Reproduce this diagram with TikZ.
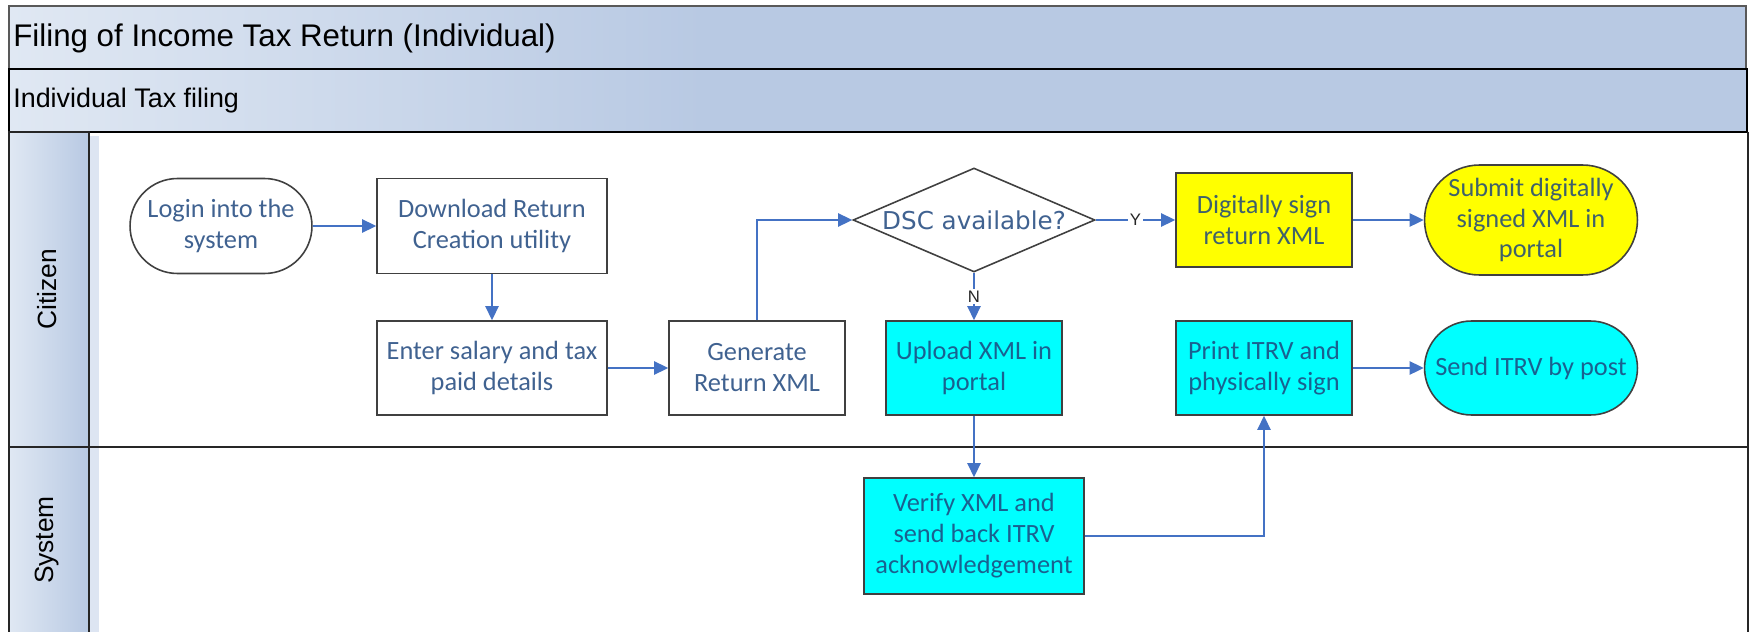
\documentclass[tikz,border=0pt]{standalone}
\usepackage{fontspec}
\setmainfont{Carlito}
\newfontfamily\arialfont{Liberation Sans}
\newfontfamily\dscfont{DejaVu Sans}
\usepackage{xcolor}
\usetikzlibrary{shapes.geometric, shapes.misc, arrows.meta}

\definecolor{flowblue}{RGB}{68,114,196}
\definecolor{nodetext}{RGB}{30,70,125}
\definecolor{barlight}{RGB}{224,232,243}
\definecolor{bardark}{RGB}{184,201,227}
\definecolor{ghost}{RGB}{221,229,242}
\definecolor{signyellow}{RGB}{255,255,0}
\definecolor{uploadcyan}{RGB}{0,255,255}

\pgfdeclarehorizontalshading{barshade}{100bp}{color(0bp)=(barlight); color(25bp)=(barlight); color(45bp)=(bardark); color(100bp)=(bardark)}

\begin{document}
\begin{tikzpicture}[x=0.02cm, y=-0.02cm,
        box/.style={rectangle, draw=black!75, line width=0.9pt, align=center, text=nodetext, text opacity=0.85, font=\fontsize{15}{17.6}\selectfont, inner sep=2pt},
        terminal/.style={box, rounded rectangle},
        decision/.style={diamond, draw=black!75, line width=0.9pt, aspect=2.4, inner sep=0pt, text=nodetext, text opacity=0.85, font=\dscfont\fontsize{14}{16}\selectfont},
        flow/.style={draw=flowblue, line width=1.1pt, -{Triangle[length=8pt, width=7.5pt]}},
        answer/.style={fill=white, inner sep=1pt, font=\arialfont\fontsize{9.5}{11}\selectfont, text=black!85},
        lanename/.style={rotate=90, inner sep=0pt, font=\arialfont\fontsize{15}{18}\selectfont}
    ]
        \useasboundingbox (0,0) rectangle (1752,632);

        % Pool and lanes
        \path [shading=barshade, draw=black!65, line width=0.7pt] (9,6) rectangle (1746,69);
        \path [shading=barshade, draw=black, line width=1.5pt] (9,69) rectangle (1747,132);
        \fill [ghost] (89,136) rectangle (99,640);
        \path [left color=barlight, right color=bardark, draw=black!85, line width=0.7pt] (9,132) rectangle (89,640);
        \draw [black!85, line width=0.7pt] (9,447) -- (1748,447);
        \draw [black!85, line width=0.7pt] (1748,132) -- (1748,640);

        \node [anchor=base west, inner sep=0pt, font=\arialfont\fontsize{17.8}{20}\selectfont] (pool) at (13, 46) {Filing of Income Tax Return (Individual)};
        \node [anchor=base west, inner sep=0pt, font=\arialfont\fontsize{15.3}{18}\selectfont] (phase) at (13, 107) {Individual Tax filing};
        \node [lanename] (citizen) at (47, 289) {Citizen};
        \node [lanename] (system) at (47, 540) {System};

        % Nodes
        \node [terminal, minimum width=3.78cm, minimum height=1.9cm] (login) at (221, 226) {Login into the\\system};

        \node [box, minimum width=4.6cm, minimum height=1.9cm] (download) at (492, 226) {Download Return\\Creation utility};

        \node [box, minimum width=4.6cm, minimum height=1.88cm] (salary) at (492, 368) {Enter salary and tax\\paid details};

        \node [box, minimum width=3.52cm, minimum height=1.88cm] (genxml) at (757, 368) {Generate\\Return XML};

        \node [decision, minimum width=4.84cm, minimum height=2.08cm] (dsc) at (974, 220) {DSC available?};

        \node [box, fill=signyellow, minimum width=3.52cm, minimum height=1.88cm] (digisign) at (1264, 220) {Digitally sign\\return XML};

        \node [terminal, fill=signyellow, minimum width=4.4cm, minimum height=2.2cm] (submit) at (1531, 220) {Submit digitally\\signed XML in\\portal};

        \node [box, fill=uploadcyan, minimum width=3.52cm, minimum height=1.88cm] (upload) at (974, 368) {Upload XML in\\portal};

        \node [box, fill=uploadcyan, minimum width=3.52cm, minimum height=1.88cm] (printitrv) at (1264, 368) {Print ITRV and\\physically sign};

        \node [terminal, fill=uploadcyan, minimum width=4.4cm, minimum height=1.88cm] (post) at (1531, 368) {Send ITRV by post};

        \node [box, fill=uploadcyan, minimum width=4.4cm, minimum height=2.32cm] (verify) at (974, 536) {Verify XML and\\send back ITRV\\acknowledgement};

        % Connections
        \draw [flow] (login) -- (download);
        \draw [flow] (download) -- (salary);
        \draw [flow] (salary) -- (genxml);
        \draw [flow] (genxml.north) |- (dsc.west);

        \draw [flow] (dsc) -- node[answer] {Y} (digisign);
        \draw [flow] (dsc) -- node[answer] {N} (upload);
        \draw [flow] (digisign) -- (submit);

        % The ITRV goes down to the system lane and comes back up
        \draw [flow] (upload) -- (verify);
        \draw [flow] (verify) -| (printitrv);
        \draw [flow] (printitrv) -- (post);

    \end{tikzpicture}
\end{document}
